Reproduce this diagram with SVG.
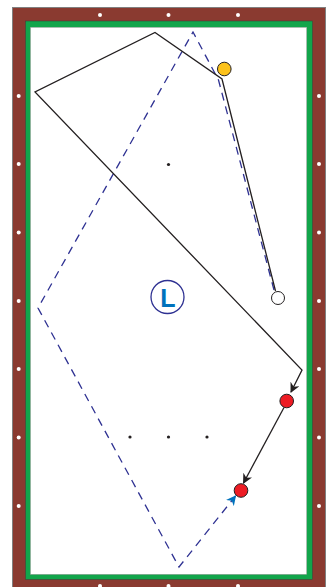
<svg xmlns="http://www.w3.org/2000/svg" width="331" height="587" viewBox="0 0 331 587">
<style>
.dia{fill:#fff}
.shot{fill:none;stroke:#231f20;stroke-width:1.3}
.dash{fill:none;stroke:#2e3192;stroke-width:1.3;stroke-dasharray:8 6}
.spot{fill:#231f20}
.ball{stroke:#231f20;stroke-width:1}
</style>
<defs>
<marker id="ah" markerWidth="10" markerHeight="10" refX="9" refY="5" orient="auto" markerUnits="userSpaceOnUse">
<path d="M0,0 L10,5 L0,10 L3,5 Z" fill="#231f20"/>
</marker>
<marker id="ahb" markerWidth="10" markerHeight="10" refX="9" refY="5" orient="auto" markerUnits="userSpaceOnUse">
<path d="M0,0 L10,5 L0,10 L3,5 Z" fill="#0072bc"/>
</marker>
</defs>
<g id="table">
<rect x="12.5" y="7.5" width="313" height="590" fill="#8a3a30" stroke="#808080" stroke-width="1"/>
<rect x="25.5" y="21" width="287" height="558.5" fill="#12a54b" stroke="#3a3a3a" stroke-width="0.5"/>
<rect x="30.5" y="27.3" width="276.2" height="547" fill="#fff" stroke="#999" stroke-width="0.5"/>
</g>
<g id="diamonds">
<circle class="dia" cx="100" cy="15" r="2"/>
<circle class="dia" cx="168.5" cy="15" r="2"/>
<circle class="dia" cx="238" cy="15" r="2"/>
<circle class="dia" cx="100" cy="586" r="2"/>
<circle class="dia" cx="168.5" cy="586" r="2"/>
<circle class="dia" cx="238" cy="586" r="2"/>
<circle class="dia" cx="18.7" cy="96" r="2"/>
<circle class="dia" cx="18.7" cy="164" r="2"/>
<circle class="dia" cx="18.7" cy="232.5" r="2"/>
<circle class="dia" cx="18.7" cy="301" r="2"/>
<circle class="dia" cx="18.7" cy="369" r="2"/>
<circle class="dia" cx="18.7" cy="437.5" r="2"/>
<circle class="dia" cx="18.7" cy="506" r="2"/>
<circle class="dia" cx="319" cy="96" r="2"/>
<circle class="dia" cx="319" cy="164" r="2"/>
<circle class="dia" cx="319" cy="232.5" r="2"/>
<circle class="dia" cx="319" cy="301" r="2"/>
<circle class="dia" cx="319" cy="369" r="2"/>
<circle class="dia" cx="319" cy="437.5" r="2"/>
<circle class="dia" cx="319" cy="506" r="2"/>
</g>
<g id="spots">
<circle class="spot" cx="168.5" cy="164.5" r="1.6"/>
<circle class="spot" cx="130" cy="437" r="1.6"/>
<circle class="spot" cx="168.5" cy="437" r="1.6"/>
<circle class="spot" cx="207" cy="437" r="1.6"/>
</g>
<g id="connectors">
<polyline class="dash" points="274,290 218.5,80 193,32 38,308 179,567 235.5,496" marker-end="url(#ahb)"/>
<polyline class="shot" points="275.5,291 222,79 155,32.5 35,92 302,370 291,392" marker-end="url(#ah)"/>
<line class="shot" x1="284" y1="407.5" x2="243.5" y2="483" marker-end="url(#ah)"/>
</g>
<g id="yellow-ball"><circle class="ball" cx="224.3" cy="69" r="6.8" fill="#fcc21b"/></g>
<g id="cue-ball"><circle class="ball" cx="278" cy="298" r="6.5" fill="#fff"/></g>
<g id="red-ball-1"><circle class="ball" cx="286.7" cy="401" r="6.8" fill="#ed1c24"/></g>
<g id="red-ball-2"><circle class="ball" cx="241" cy="490.5" r="6.8" fill="#ed1c24"/></g>
<g id="label-L">
<circle cx="167.5" cy="297" r="16.5" fill="#fff" stroke="#2e3192" stroke-width="1.3"/>
<text x="168" y="306.5" text-anchor="middle" font-family="'Liberation Sans', Arial, sans-serif" font-weight="bold" font-size="25" fill="#0072bc">L</text>
</g>
</svg>
